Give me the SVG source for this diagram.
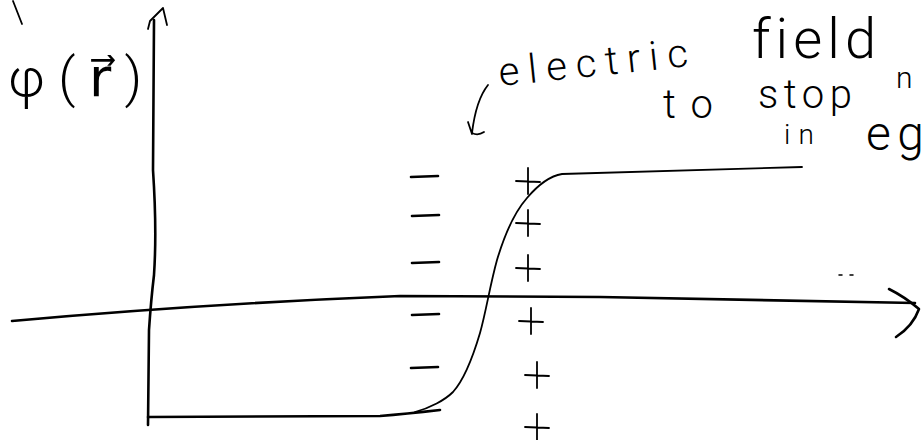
<svg xmlns="http://www.w3.org/2000/svg" width="924" height="440" viewBox="0 0 924 440">
<style>
.ink{fill:none;stroke:#000;stroke-linecap:round;stroke-linejoin:round}
.ax{stroke-width:2.6}
.thin{stroke-width:1.8}
.hw{font-family:Roboto,"DejaVu Sans","Liberation Sans",sans-serif;fill:#000;font-weight:300;font-variant-ligatures:none}
.dv{font-family:"DejaVu Sans",sans-serif;font-weight:normal}
</style>
<defs>
<path id="plus" d="M-12,0 L12,1 M0,-13 L0,13"/>
<path id="minus" d="M0,1 L27,0"/>
</defs>
<rect width="924" height="440" fill="#fff"/>
<g id="axes">
<path class="ink thin" d="M13,1 L22,24"/>
<path class="ink ax" d="M154,20 L153,170 Q157,230 154,275 Q151,300 149,330 L148,425"/>
<path class="ink thin" d="M148,29 L150,21 L163,8 L167,25"/>
<path class="ink ax" d="M12,321 Q200,304 400,296 L600,297 Q750,300 915,303"/>
<path class="ink ax" d="M889,289 Q905,297 919,309 Q913,326 896,337"/>
<path class="ink ax" d="M148,417 L380,416 Q405,414 440,410"/>
</g>
<g id="curve">
<path class="ink thin" d="M415,412 C430,408 445,400 453,392 C462,382 472,360 480,333 C486,312 490,285 497,260 C503,240 512,215 527,198 C538,185 550,176 562,174 L802,167"/>
</g>
<g id="minus-charges" class="ink ax">
<use href="#minus" x="411" y="176"/>
<use href="#minus" x="412" y="215"/>
<use href="#minus" x="412" y="262"/>
<use href="#minus" x="412" y="314"/>
<use href="#minus" x="411" y="367"/>
</g>
<g id="plus-charges" class="ink thin">
<use href="#plus" x="528" y="181"/>
<use href="#plus" x="528" y="223"/>
<use href="#plus" x="528" y="268"/>
<use href="#plus" x="531" y="321"/>
<use href="#plus" x="537" y="375"/>
<use href="#plus" x="537" y="427"/>
</g>
<g id="label-phi">
<text class="hw" x="8" y="96" font-size="54" textLength="134" lengthAdjust="spacing">φ(<tspan class="dv">r⃗</tspan>)</text>
</g>
<g id="annotation">
<path class="ink thin" d="M488,85 Q476,100 472,133 Q478,136 484,132 M468,122 L472,134"/>
<text class="hw" x="500" y="86" font-size="40" textLength="190" lengthAdjust="spacing" transform="rotate(-6 500 86)">electric</text>
<text class="hw" x="752" y="58" font-size="56" textLength="124" lengthAdjust="spacing">field</text>
<text class="hw" x="663" y="118" font-size="40" textLength="50" lengthAdjust="spacing">to</text>
<text class="hw" x="758" y="108" font-size="40" textLength="94" lengthAdjust="spacing">stop</text>
<text class="hw" x="896" y="88" font-size="30">n</text>
<text class="hw" x="784" y="144" font-size="28" textLength="30" lengthAdjust="spacing">in</text>
<text class="hw" x="866" y="150" font-size="48" textLength="58" lengthAdjust="spacing">eg</text>
<path class="ink" stroke-width="1.5" d="M839,275 L842,275 M850,275 L853,275"/>
</g>
</svg>
